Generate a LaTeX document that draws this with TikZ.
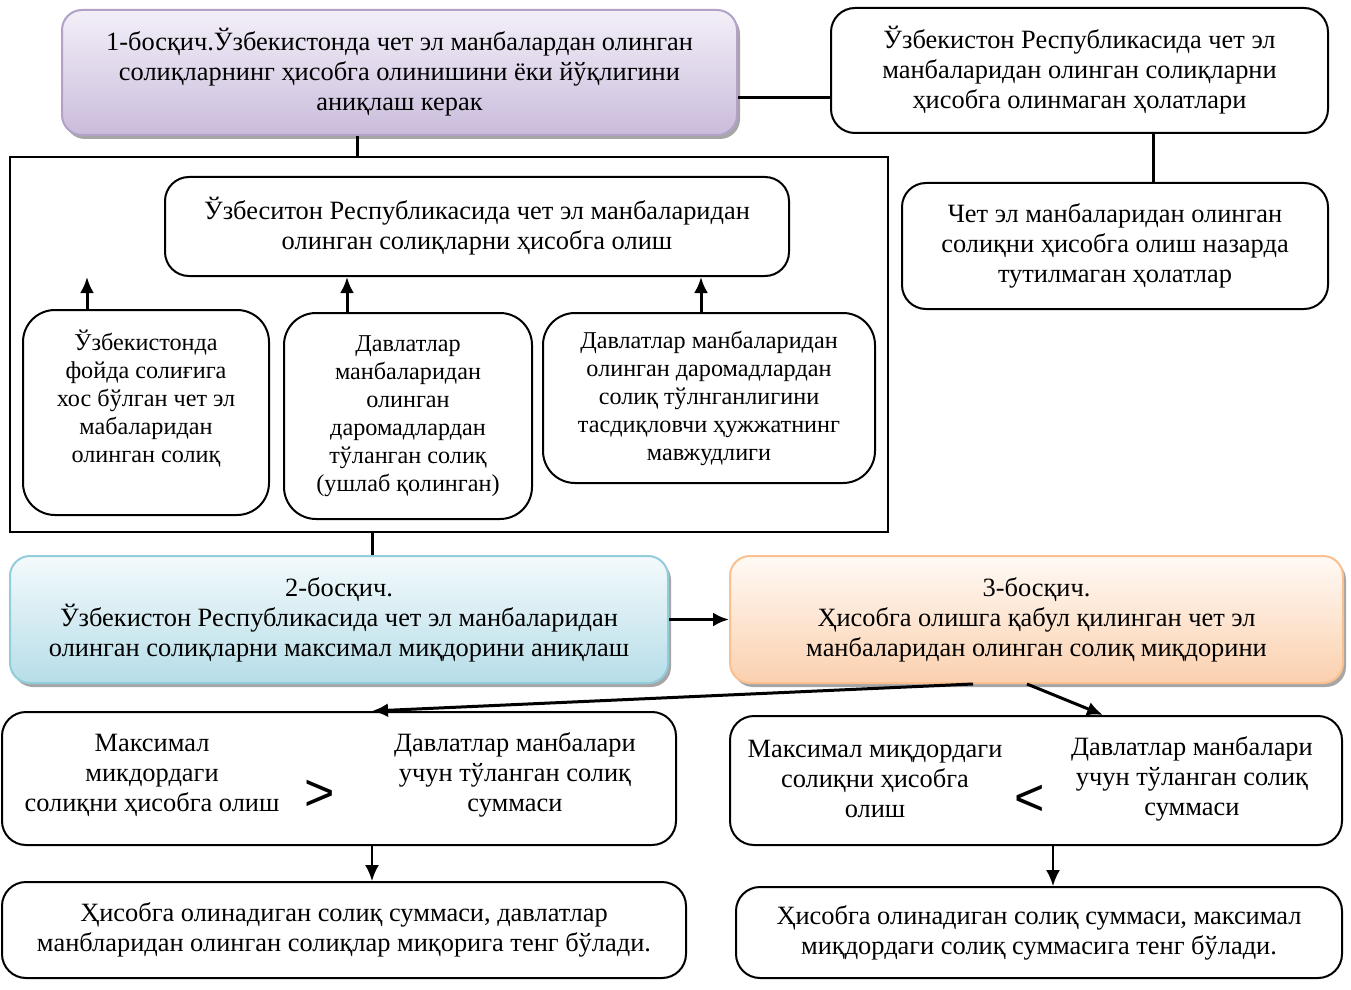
\documentclass[tikz,border=0pt]{standalone}
\usepackage{fontspec}
\setmainfont{Liberation Serif}
\newfontfamily\signfont{Liberation Sans}
\usetikzlibrary{positioning,shadows,arrows.meta}

\definecolor{violetline}{HTML}{B3A2C7}
\definecolor{violettop}{HTML}{F3EFF8}
\definecolor{violetbot}{HTML}{CABCDC}
\definecolor{blueline}{HTML}{92CDDC}
\definecolor{bluetop}{HTML}{F4FAFC}
\definecolor{bluebot}{HTML}{B6DDE8}
\definecolor{orangeline}{HTML}{FAC090}
\definecolor{orangetop}{HTML}{FFFAF5}
\definecolor{orangebot}{HTML}{FBD0AE}

\def\px{0.5pt}

\tikzset{
  box/.style={draw, line width=1pt, rounded corners=12pt, align=center, inner sep=0pt,
    font=\fontsize{13.2}{15}\selectfont},
  smallbox/.style={box, rounded corners=16pt, font=\fontsize{12.1}{14}\selectfont},
  stage/.style={box, rounded corners=10pt, shading=axis,
    drop shadow={shadow xshift=1.5pt, shadow yshift=-2pt, fill=black, opacity=.35}},
  plain/.style={align=center, inner sep=0pt, font=\fontsize{13.2}{15}\selectfont},
  sign/.style={inner sep=0pt, font=\signfont\fontsize{26}{26}\selectfont},
  link/.style={line width=1.5pt},
  arrow/.style={line width=1.5pt, -{Latex[length=8pt,width=7pt]}},
}

\begin{document}
\begin{tikzpicture}[x=0.5pt, y=-0.5pt]
  \useasboundingbox (0,0) rectangle (1351,990);

  %%% Stage 1 %%%
  \node[stage, draw=violetline, top color=violettop, bottom color=violetbot,
    minimum width=675*\px, minimum height=125*\px] (st1) at (399.5,72.5)
    {1-босқич.Ўзбекистонда чет эл манбалардан олинган\\
     солиқларнинг ҳисобга олинишини ёки йўқлигини\\
     аниқлаш керак};

  \node[box, minimum width=497*\px, minimum height=125*\px] (notin) at (1079.5,70.5)
    {Ўзбекистон Республикасида чет эл\\
     манбаларидан олинган солиқларни\\
     ҳисобга олинмаган ҳолатлари};
  \node[box, minimum width=426*\px, minimum height=126*\px] (notcase) at (1115,246)
    {Чет эл манбаларидан олинган\\
     солиқни ҳисобга олиш назарда\\
     тутилмаган ҳолатлар};

  \node[draw, line width=1pt, minimum width=878*\px, minimum height=375*\px] (frame) at (449,344.5) {};

  \node[box, minimum width=624*\px, minimum height=99*\px] (credit) at (477,226.5)
    {Ўзбеситон Республикасида чет эл манбаларидан\\
     олинган солиқларни ҳисобга олиш};

  \node[smallbox, minimum width=246*\px, minimum height=205*\px] (cond1) at (146,412.5) {};
  \node[plain, font=\fontsize{12.1}{14}\selectfont] (cond1text) at (146,399)
    {Ўзбекистонда\\ фойда солиғига\\ хос бўлган чет эл\\ мабаларидан\\ олинган солиқ};
  \node[smallbox, minimum width=248*\px, minimum height=206*\px] (cond2) at (408,416)
    {Давлатлар\\ манбаларидан\\ олинган\\ даромадлардан\\ тўланган солиқ\\ (ушлаб қолинган)};
  \node[smallbox, minimum width=332*\px, minimum height=170*\px] (cond3) at (709,398)
    {Давлатлар манбаларидан\\ олинган даромадлардан\\ солиқ тўлнганлигини\\
     тасдиқловчи ҳужжатнинг\\ мавжудлиги};
  \coordinate (tip1) at (87,277);

  %%% Stage 2 and 3 %%%
  \node[stage, draw=blueline, top color=bluetop, bottom color=bluebot,
    minimum width=658*\px, minimum height=127*\px] (st2) at (339,619.5)
    {2-босқич.\\
     Ўзбекистон Республикасида чет эл манбаларидан\\
     олинган солиқларни максимал миқдорини аниқлаш};
  \node[stage, draw=orangeline, top color=orangetop, bottom color=orangebot,
    minimum width=613*\px, minimum height=127*\px] (st3) at (1036.5,619.5)
    {3-босқич.\\
     Ҳисобга олишга қабул қилинган чет эл\\
     манбаларидан олинган солиқ миқдорини};

  %%% Comparison %%%
  \node[box, minimum width=674*\px, minimum height=133*\px] (cmpl) at (339,778.5) {};
  \node[plain] (cmplA) at (152,775) {Максимал\\ микдордаги\\ солиқни ҳисобга олиш};
  \node[sign] (gt) at (320,795) {>};
  \node[plain] (cmplB) at (515,775) {Давлатлар манбалари\\ учун тўланган солиқ\\ суммаси};
  \node[box, minimum width=684*\px, minimum height=96*\px] (resl) at (344,930)
    {Ҳисобга олинадиган солиқ суммаси, давлатлар\\
     манбларидан олинган солиқлар миқорига тенг бўлади.};

  \node[box, minimum width=612*\px, minimum height=129*\px] (cmpr) at (1036,780.5) {};
  \node[plain] (cmprA) at (875,779) {Максимал миқдордаги\\ солиқни ҳисобга\\ олиш};
  \node[sign] (lt) at (1030,800) {<};
  \node[plain] (cmprB) at (1192,779) {Давлатлар манбалари\\ учун тўланган солиқ\\ суммаси};
  \node[box, minimum width=606*\px, minimum height=91*\px] (resr) at (1039,932.5)
    {Ҳисобга олинадиган солиқ суммаси, максимал\\
     миқдордаги солиқ суммасига тенг бўлади.};

  %%% Connectors %%%
  \draw[link] ([yshift=-12.5pt]st1.east) -- ([yshift=-12.5pt]st1.east -| notin.west);
  \draw[link] ([xshift=37pt]notin.south) -- ([xshift=37pt]notin.south |- notcase.north);
  \draw[link] ([xshift=-21pt]st1.south) -- ([xshift=-21pt]st1.south |- frame.north);

  \draw[arrow] ([xshift=-29.5pt]cond1.north) -- (tip1);
  \draw[arrow] ([xshift=-30.5pt]cond2.north) -- ([xshift=-30.5pt]cond2.north |- credit.south);
  \draw[arrow] ([xshift=-4pt]cond3.north) -- ([xshift=-4pt]cond3.north |- credit.south);

  \draw[link] ([xshift=-38.5pt]frame.south) -- ([xshift=-38.5pt]frame.south |- st2.north);
  \draw[arrow] (st2.east) -- (st3.west);

  \draw[arrow] ([xshift=-31.75pt]st3.south) -- ([xshift=16.5pt]cmpl.north);
  \draw[arrow] ([xshift=-4.75pt]st3.south) -- ([xshift=33.5pt]cmpr.north);

  \draw[arrow, line width=1pt] ([xshift=16.5pt]cmpl.south) -- ([xshift=16.5pt]cmpl.south |- resl.north);
  \draw[arrow, line width=1pt] ([xshift=8.5pt]cmpr.south) -- ([xshift=8.5pt]cmpr.south |- resr.north);
\end{tikzpicture}
\end{document}
